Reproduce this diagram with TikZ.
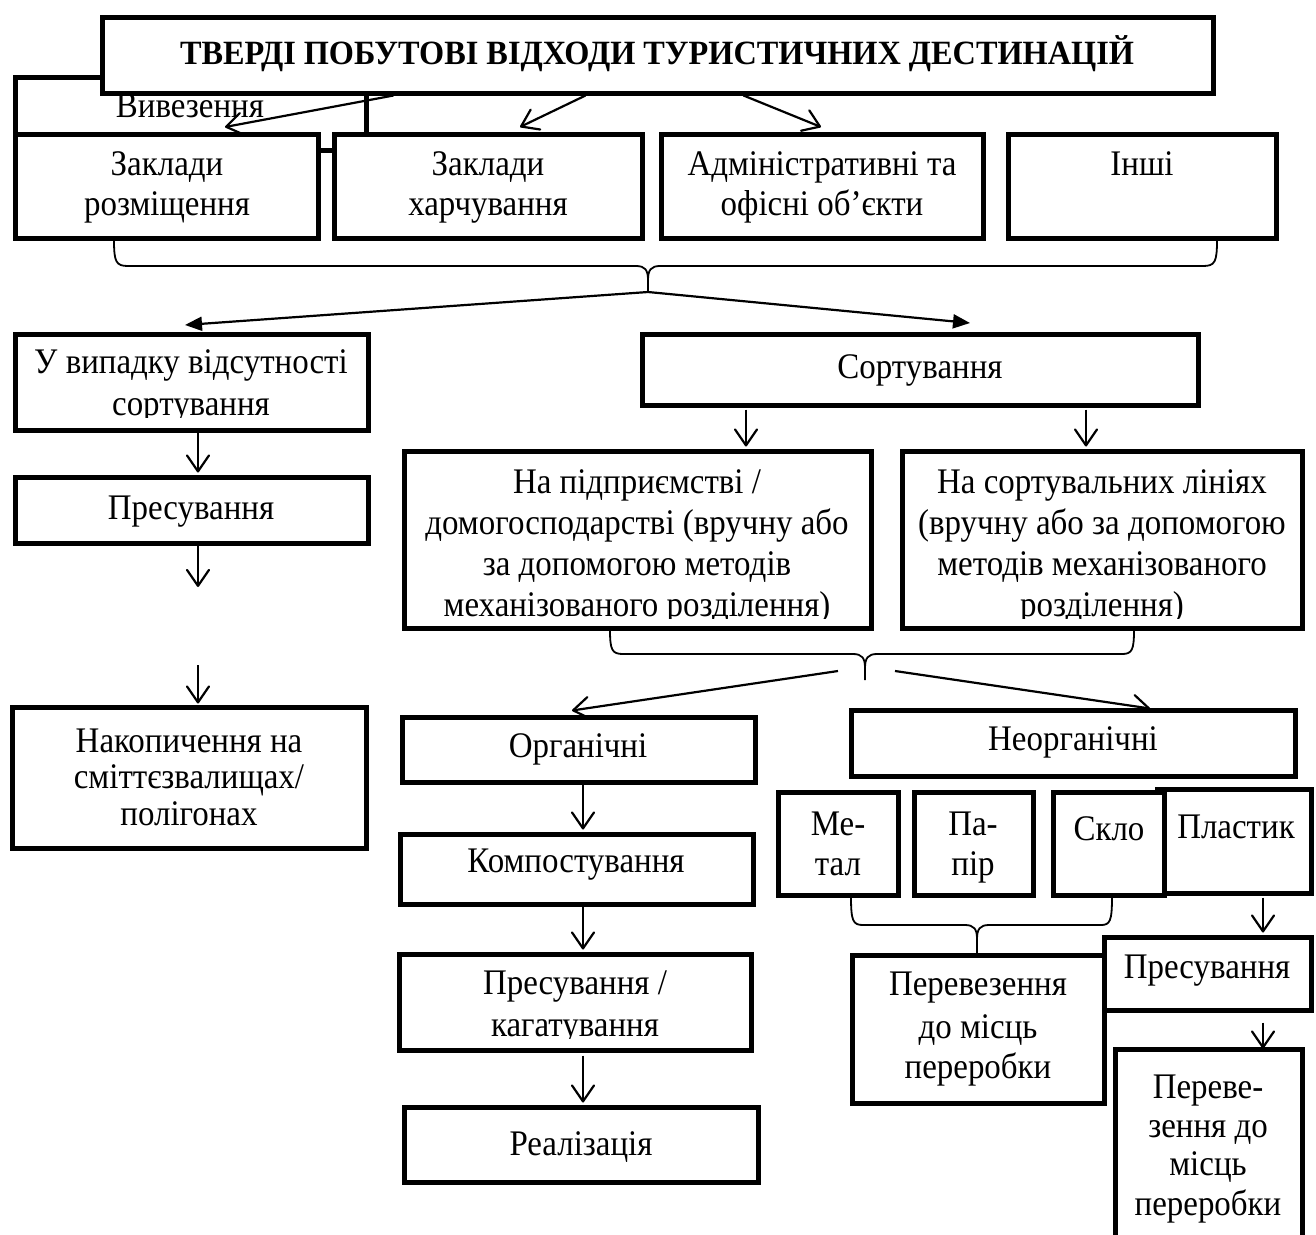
\documentclass[tikz,border=0pt]{standalone}
\usepackage{fontspec}
\setmainfont{Liberation Serif}[FakeStretch=0.915]
\newfontfamily\headfont{Liberation Serif}[FakeStretch=0.95]
\usetikzlibrary{arrows.meta,calc}
\pgfdeclarelayer{lines}
\pgfsetlayers{lines,main}
\tikzset{
  box/.style={draw, line width=5pt, fill=white, inner sep=0pt, rectangle},
  lbl/.style={anchor=base, inner sep=0pt, font=\fontsize{36}{40}\selectfont},
  ttl/.style={anchor=base, inner sep=0pt, font=\headfont\fontsize{34}{38}\selectfont\bfseries},
  link/.style={line width=2.2pt, -{Straight Barb[length=16pt,width=22pt,round]}},
  split/.style={line width=2.2pt, -{Triangle[length=17pt,width=14pt]}},
  brace/.style={line width=1.8pt, line join=round},
}
% rectangle node from its corner coordinates: [style]{name}{x1}{y1}{x2}{y2}
\newcommand\rbox[6][]{\node[box,#1, minimum width={#5-#3}, minimum height={#6-#4}] (#2) at ({(#3+#5)/2},{(#4+#6)/2}) {};}

\begin{document}
\begin{tikzpicture}[x=1pt,y=-1pt]
\useasboundingbox (0,0) rectangle (1316,1234);

% ---------- top level ----------
\rbox[fill=none]{haul}{15}{77}{366}{150}
\node[lbl] (haultxt) at (190,117) {Вивезення};
\rbox{title}{102}{17}{1213}{93}
\node[ttl] (titletxt) at (657,64) {ТВЕРДІ ПОБУТОВІ ВІДХОДИ ТУРИСТИЧНИХ ДЕСТИНАЦІЙ};

% ---------- sources ----------
\rbox{a1}{15}{134}{318}{238}
\node[lbl] (a1t1) at (167,175) {Заклади};
\node[lbl] (a1t2) at (167,215) {розміщення};
\rbox{a2}{334}{134}{642}{238}
\node[lbl] (a2t1) at (488,175) {Заклади};
\node[lbl] (a2t2) at (488,215) {харчування};
\rbox{a3}{661}{134}{983}{238}
\node[lbl] (a3t1) at (822,175) {Адміністративні та};
\node[lbl] (a3t2) at (822,215) {офісні об’єкти};
\rbox{a4}{1008}{134}{1276}{238}
\node[lbl] (a4t1) at (1142,175) {Інші};

% ---------- unsorted branch ----------
\rbox{b1}{15}{334}{368}{430}
\begin{scope}
  \clip (18,337) rectangle (365,417);
  \node[lbl] (b1t1) at (191,373) {У випадку відсутності};
  \node[lbl] (b1t2) at (191,415) {сортування};
\end{scope}
\rbox{b2}{15}{477}{368}{543}
\node[lbl] (b2t1) at (191,519) {Пресування};
\rbox{b3}{12}{707}{366}{848}
\node[lbl] (b3t1) at (189,752) {Накопичення на};
\node[lbl] (b3t2) at (189,788) {сміттєзвалищах/};
\node[lbl] (b3t3) at (189,825) {полігонах};

% ---------- sorting ----------
\rbox{c0}{642}{334}{1198}{405}
\node[lbl] (c0t1) at (920,378) {Сортування};
\rbox{c1}{404}{451}{871}{628}
\begin{scope}
  \clip (407,454) rectangle (868,618);
  \node[lbl] (c1t1) at (637,493) {На підприємстві /};
  \node[lbl] (c1t2) at (637,534) {домогосподарстві (вручну або};
  \node[lbl] (c1t3) at (637,575) {за допомогою методів};
  \node[lbl] (c1t4) at (637,616) {механізованого розділення)};
\end{scope}
\rbox{c2}{902}{451}{1302}{628}
\begin{scope}
  \clip (905,454) rectangle (1299,618);
  \node[lbl] (c2t1) at (1102,493) {На сортувальних лініях};
  \node[lbl] (c2t2) at (1102,534) {(вручну або за допомогою};
  \node[lbl] (c2t3) at (1102,575) {методів механізованого};
  \node[lbl] (c2t4) at (1102,616) {розділення)};
\end{scope}

% ---------- organic ----------
\rbox{d1}{402}{717}{755}{782}
\node[lbl] (d1t1) at (578,757) {Органічні};
\rbox{d2}{400}{834}{753}{904}
\node[lbl] (d2t1) at (576,872) {Компостування};
\rbox{d3}{399}{954}{751}{1050}
\begin{scope}
  \clip (402,957) rectangle (748,1038);
  \node[lbl] (d3t1) at (575,994) {Пресування /};
  \node[lbl] (d3t2) at (575,1036) {кагатування};
\end{scope}
\rbox{d4}{404}{1107}{758}{1182}
\node[lbl] (d4t1) at (581,1155) {Реалізація};

% ---------- inorganic ----------
\rbox{e0}{851}{710}{1295}{776}
\node[lbl] (e0t1) at (1073,750) {Неорганічні};
\rbox{f4}{1157}{789}{1311}{893}
\node[lbl] (f4t1) at (1236,838) {Пластик};
\rbox{f1}{778}{792}{898}{895}
\node[lbl] (f1t1) at (838,835) {Ме-};
\node[lbl] (f1t2) at (838,875) {тал};
\rbox{f2}{914}{792}{1033}{895}
\node[lbl] (f2t1) at (973,835) {Па-};
\node[lbl] (f2t2) at (973,875) {пір};
\rbox{f3}{1053}{792}{1164}{895}
\node[lbl] (f3t1) at (1109,840) {Скло};

\rbox{g2}{1104}{937}{1311}{1010}
\node[lbl] (g2t1) at (1207,978) {Пресування};
\rbox{g1}{852}{955}{1104}{1103}
\node[lbl] (g1t1) at (978,995) {Перевезення};
\node[lbl] (g1t2) at (978,1038) {до місць};
\node[lbl] (g1t3) at (978,1078) {переробки};
\rbox{g3}{1115}{1049}{1302}{1270}
\node[lbl] (g3t1) at (1208,1098) {Переве-};
\node[lbl] (g3t2) at (1208,1137) {зення до};
\node[lbl] (g3t3) at (1208,1175) {місць};
\node[lbl] (g3t4) at (1208,1215) {переробки};

% ---------- connectors and braces ----------
\begin{pgfonlayer}{lines}
  \draw[link] ($(title.south west)+(294,0)$) -- ($(a1.north west)+(212.5,-4.5)$);
  \draw[link] ($(title.south west)+(486,0)$) -- ($(a2.north west)+(188.5,-4.5)$);
  \draw[link] ($(title.south west)+(644,0)$) -- ($(a3.north)+(-1,-4.5)$);

  % brace under the sources
  \coordinate (tip1) at (648,292);
  \draw[brace] (114,240) .. controls (114,262) and (116,266) .. (128,266) -- (636,266)
     .. controls (645,266) and (648,270) .. (648,280) -- (tip1)
     (648,280) .. controls (648,270) and (651,266) .. (660,266) -- (1203,266)
     .. controls (1215,266) and (1217,262) .. (1217,240);
  \draw[split] (tip1) -- ($(b1.north)+(-6.5,-6.5)$);
  \draw[split] (tip1) -- ($(c0.north)+(50,-8.5)$);

  % unsorted chain
  \draw[link] ($(b1.south)+(6.5,0)$) -- ($(b2.north)+(6.5,-2)$);
  \coordinate (presend) at (198,587);
  \draw[link] ($(b2.south)+(6.5,0)$) -- (presend);
  \coordinate (landstart) at (198,665);
  \draw[link] (landstart) -- ($(b3.north)+(9,-1)$);

  % sorting split
  \draw[link] ($(c0.south)+(-174,2)$) -- ($(c1.north)+(108.5,-2)$);
  \draw[link] ($(c0.south)+(166,2)$) -- ($(c2.north)+(-16,-2)$);

  % brace under the sorting methods
  \coordinate (tip2) at (865,680);
  \draw[brace] (610,630) .. controls (610,650) and (612,654) .. (623,654) -- (853,654)
     .. controls (862,654) and (865,658) .. (865,668) -- (tip2)
     (865,668) .. controls (865,658) and (868,654) .. (877,654) -- (1122,654)
     .. controls (1132,654) and (1134,650) .. (1134,630);
  \coordinate (s2l) at (838,671);
  \coordinate (s2r) at (895,671);
  \draw[link] (s2l) -- ($(d1.north)+(-6.5,-4)$);
  \draw[link] (s2r) -- ($(e0.north)+(77,1)$);

  % organic chain
  \draw[link] ($(d1.south)+(4.5,0)$) -- ($(d2.north)+(6.5,-2)$);
  \draw[link] ($(d2.south)+(6.5,0)$) -- ($(d3.north)+(8,-2)$);
  \draw[link] ($(d3.south)+(8,3)$) -- ($(d4.north)+(2,-2)$);

  % brace under metal, paper, glass
  \coordinate (tip3) at (977,953);
  \draw[brace] (851,897) .. controls (851,921) and (853,925) .. (863,925) -- (965,925)
     .. controls (974,925) and (977,929) .. (977,939) -- (tip3)
     (977,939) .. controls (977,929) and (980,925) .. (989,925) -- (1101,925)
     .. controls (1110,925) and (1112,921) .. (1112,897);

  % plastic chain
  \draw[link] ($(f4.south)+(29,2)$) -- ($(g2.north)+(55.5,-2)$);
  \draw[link] ($(g2.south)+(55.5,10)$) -- ($(g3.north)+(54.5,2)$);
\end{pgfonlayer}
\end{tikzpicture}
\end{document}
